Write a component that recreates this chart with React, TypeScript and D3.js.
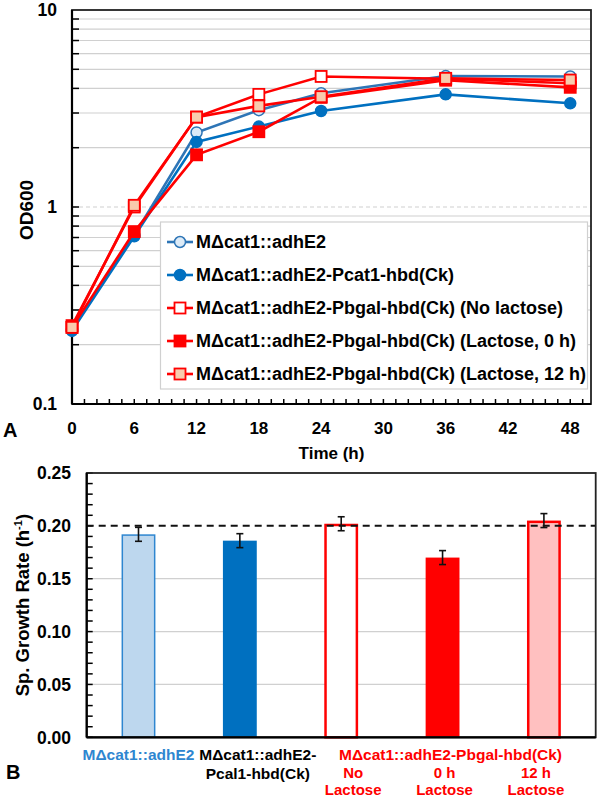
import React from 'react';
import { scaleLinear, scaleLog, scaleBand, line, range } from 'd3';

const FONT = '"Liberation Sans", Arial, sans-serif';
const RED = '#ff0000';
const BLUE = '#0070c0';
const LIGHT_BLUE = '#2e75b6';

// Panel A — OD600 growth curves
const hours = [0, 6, 12, 18, 24, 36, 48];
const xTickHours = [0, 6, 12, 18, 24, 30, 36, 42, 48];
const yTickLabels = [0.1, 1, 10];

const odAdhE2 = [0.24, 0.72, 2.39, 3.1, 3.78, 4.62, 4.6];
const odPcat1 = [0.235, 0.71, 2.14, 2.56, 3.07, 3.73, 3.36];
const odNoLac = [0.25, 1.0, 2.86, 3.73, 4.6, 4.48, 4.25];
const odLac0 = [0.245, 0.75, 1.84, 2.41, 3.6, 4.4, 4.05];
const odLac12 = [0.245, 1.02, 2.86, 3.26, 3.63, 4.5, 4.41];

const errAdhE2 = [0.01, 0.04, 0.12, 0.08, 0.08, 0.1, 0.08];
const errPcat1 = [0.01, 0.03, 0.08, 0.08, 0.08, 0.2, 0.08];
const errNoLac = [0.01, 0.03, 0.08, 0.08, 0.08, 0.1, 0.08];
const errLac0 = [0.01, 0.03, 0.08, 0.08, 0.08, 0.2, 0.08];
const errLac12 = [0.01, 0.03, 0.08, 0.08, 0.08, 0.1, 0.08];

const seriesNames = [
	'MΔcat1::adhE2',
	'MΔcat1::adhE2-Pcat1-hbd(Ck)',
	'MΔcat1::adhE2-Pbgal-hbd(Ck) (No lactose)',
	'MΔcat1::adhE2-Pbgal-hbd(Ck) (Lactose, 0 h)',
	'MΔcat1::adhE2-Pbgal-hbd(Ck) (Lactose, 12 h)',
];

// Panel B — specific growth rate
const barKeys = ['adhE2', 'pcat1', 'noLac', 'lac0', 'lac12'];
const growthRate = [0.192, 0.186, 0.202, 0.17, 0.205];
const growthErr = [0.0066, 0.0066, 0.0066, 0.0066, 0.0066];
const rateTicks = [0, 0.05, 0.1, 0.15, 0.2, 0.25];
const refRate = 0.2;

const series = [
	{ name: seriesNames[0], values: odAdhE2, err: errAdhE2, color: LIGHT_BLUE, shape: 'circle', fill: '#ddebf7' },
	{ name: seriesNames[1], values: odPcat1, err: errPcat1, color: BLUE, shape: 'circle', fill: BLUE },
	{ name: seriesNames[2], values: odNoLac, err: errNoLac, color: RED, shape: 'square', fill: '#ffffff' },
	{ name: seriesNames[3], values: odLac0, err: errLac0, color: RED, shape: 'square', fill: RED },
	{ name: seriesNames[4], values: odLac12, err: errLac12, color: RED, shape: 'square', fill: '#f8cbad' },
];

const barStyles = [
	{ fill: '#bdd7ee', stroke: '#2e86d0', sw: 1.5 },
	{ fill: BLUE, stroke: 'none', sw: 0 },
	{ fill: '#ffffff', stroke: RED, sw: 2.5 },
	{ fill: RED, stroke: 'none', sw: 0 },
	{ fill: '#ffc0c0', stroke: RED, sw: 2.5 },
];

function Marker({ shape, x, y, color, fill }) {
	if (shape === 'circle') {
		return <circle cx={x} cy={y} r={5.5} fill={fill} stroke={color} strokeWidth={1.5} />;
	}
	return <rect x={x - 5.5} y={y - 5.5} width={11} height={11} fill={fill} stroke={color} strokeWidth={1.8} />;
}

export default function App() {
	// panel A scales
	const A = { left: 72, right: 591, top: 10, bottom: 404 };
	const x = scaleLinear().domain([0, 50]).range([A.left, A.right]);
	const y = scaleLog().domain([0.1, 10]).range([A.bottom, A.top]);
	const gridVals = y.ticks().filter((t) => t > 0.1 && t < 10);
	const minorX = range(0, 50, 1.2);
	const lineGen = line()
		.x((d) => x(d[0]))
		.y((d) => y(d[1]));

	// panel B scales
	const B = { left: 86.7, right: 595.7, top: 473, bottom: 737.3 };
	const xb = scaleBand().domain(barKeys).range([B.left, B.right]).paddingInner(0.666).paddingOuter(0.344);
	const yb = scaleLinear().domain([0, 0.25]).range([B.bottom, B.top]);
	const minorY = yb.ticks(25);
	const cx = (k) => xb(k) + xb.bandwidth() / 2;

	const legend = { x: 160.5, y: 222, w: 427, h: 167, row0: 242, step: 33 };

	return (
		<>
			<style>{'body{margin:0}'}</style>
			<svg width={602} height={800} style={{ display: 'block', fontFamily: FONT, fontWeight: 'bold' }}>
				<rect width={602} height={800} fill="#fff" />

				{/* ===== Panel A ===== */}
				{gridVals.map((t) => (
					<line
						key={t}
						x1={A.left}
						x2={A.right}
						y1={y(t)}
						y2={y(t)}
						stroke="#d0d0d0"
						strokeWidth={1.2}
						strokeDasharray={t === 1 ? '4 3' : null}
					/>
				))}
				{gridVals.map((t) => (
					<line key={`yt${t}`} x1={A.left} x2={A.left + 7} y1={y(t)} y2={y(t)} stroke="#000" strokeWidth={1.5} />
				))}
				{minorX.map((t) => (
					<line key={`xt${t}`} x1={x(t)} x2={x(t)} y1={A.bottom} y2={A.bottom - 5} stroke="#000" strokeWidth={1.5} />
				))}
				<rect x={A.left} y={A.top} width={A.right - A.left} height={A.bottom - A.top} fill="none" stroke="#222" strokeWidth={1.8} />
				<line x1={A.left} x2={A.left} y1={A.top} y2={A.bottom} stroke="#000" strokeWidth={2.2} />
				<line x1={A.left} x2={A.right} y1={A.bottom} y2={A.bottom} stroke="#000" strokeWidth={2.2} />

				{yTickLabels.map((t) => (
					<text key={t} x={57} y={y(t)} dy="0.36em" textAnchor="end" fontSize={17.5}>
						{t}
					</text>
				))}
				{xTickHours.map((t) => (
					<text key={t} x={x(t)} y={434} textAnchor="middle" fontSize={17}>
						{t}
					</text>
				))}
				<text x={(A.left + A.right) / 2} y={459} textAnchor="middle" fontSize={17}>
					Time (h)
				</text>
				<text transform={`translate(33,${y(1) + 3}) rotate(-90)`} textAnchor="middle" fontSize={19}>
					OD600
				</text>
				<text x={3} y={437} fontSize={20}>
					A
				</text>

				{series.map((s) => {
					const pts = hours.map((h, i) => [h, s.values[i]]);
					return (
						<g key={s.name}>
							{hours.map((h, i) => (
								<g key={h} stroke={s.color} strokeWidth={1.2}>
									<line x1={x(h)} x2={x(h)} y1={y(s.values[i] - s.err[i])} y2={y(s.values[i] + s.err[i])} />
									<line x1={x(h) - 3} x2={x(h) + 3} y1={y(s.values[i] - s.err[i])} y2={y(s.values[i] - s.err[i])} />
									<line x1={x(h) - 3} x2={x(h) + 3} y1={y(s.values[i] + s.err[i])} y2={y(s.values[i] + s.err[i])} />
								</g>
							))}
							<path d={lineGen(pts)} fill="none" stroke={s.color} strokeWidth={2.6} />
							{pts.map((p) => (
								<Marker key={p[0]} shape={s.shape} x={x(p[0])} y={y(p[1])} color={s.color} fill={s.fill} />
							))}
						</g>
					);
				})}

				{/* legend */}
				<rect x={legend.x} y={legend.y} width={legend.w} height={legend.h} fill="#fff" stroke="#d0d0d0" strokeWidth={1.2} />
				{series.map((s, i) => {
					const ly = legend.row0 + i * legend.step;
					return (
						<g key={s.name}>
							<line x1={167} x2={193} y1={ly} y2={ly} stroke={s.color} strokeWidth={2.6} />
							<Marker shape={s.shape} x={180} y={ly} color={s.color} fill={s.fill} />
							<text x={196} y={ly} dy="0.36em" fontSize={18}>
								{s.name}
							</text>
						</g>
					);
				})}

				{/* ===== Panel B ===== */}
				{rateTicks
					.filter((t) => t > 0 && t < refRate)
					.map((t) => (
						<line key={t} x1={B.left} x2={B.right} y1={yb(t)} y2={yb(t)} stroke="#d0d0d0" strokeWidth={1.2} />
					))}
				{minorY.map((t) => (
					<line key={`my${t}`} x1={B.left} x2={B.left + 6} y1={yb(t)} y2={yb(t)} stroke="#000" strokeWidth={1.5} />
				))}

				{barKeys.map((k, i) => {
					const st = barStyles[i];
					const bx = xb(k);
					const bw = xb.bandwidth();
					const top = yb(growthRate[i]);
					return (
						<rect
							key={k}
							x={bx + st.sw / 2}
							y={top + st.sw / 2}
							width={bw - st.sw}
							height={B.bottom - top - st.sw / 2}
							fill={st.fill}
							stroke={st.stroke}
							strokeWidth={st.sw}
						/>
					);
				})}

				<line x1={B.left} x2={B.right} y1={yb(refRate)} y2={yb(refRate)} stroke="#111" strokeWidth={2} strokeDasharray="7 5" />

				{barKeys.map((k, i) => {
					const lo = yb(growthRate[i] - growthErr[i]);
					const hi = yb(growthRate[i] + growthErr[i]);
					return (
						<g key={k} stroke="#111" strokeWidth={1.6}>
							<line x1={cx(k)} x2={cx(k)} y1={lo} y2={hi} />
							<line x1={cx(k) - 3.5} x2={cx(k) + 3.5} y1={lo} y2={lo} />
							<line x1={cx(k) - 3.5} x2={cx(k) + 3.5} y1={hi} y2={hi} />
						</g>
					);
				})}

				<rect x={B.left} y={B.top} width={B.right - B.left} height={B.bottom - B.top} fill="none" stroke="#222" strokeWidth={1.8} />
				<line x1={B.left} x2={B.left} y1={B.top} y2={B.bottom} stroke="#000" strokeWidth={2.2} />
				<line x1={B.left} x2={B.right} y1={B.bottom} y2={B.bottom} stroke="#000" strokeWidth={2.2} />

				{rateTicks.map((t) => (
					<text key={t} x={71} y={yb(t)} dy="0.36em" textAnchor="end" fontSize={17.5}>
						{t.toFixed(2)}
					</text>
				))}
				<text transform={`translate(29,${(B.top + B.bottom) / 2}) rotate(-90)`} textAnchor="middle" fontSize={18.5}>
					Sp. Growth Rate (h
					<tspan fontSize={11} dy={-7}>
						-1
					</tspan>
					<tspan dy={7}>)</tspan>
				</text>
				<text x={6} y={779} fontSize={20}>
					B
				</text>

				{/* category labels */}
				<g fontSize={15.5} textAnchor="middle">
					<text x={cx(barKeys[0])} y={760} fill="#2e86d0">
						MΔcat1::adhE2
					</text>
					<text x={cx(barKeys[1]) + 18} y={760} fill="#000">
						MΔcat1::adhE2-
					</text>
					<text x={cx(barKeys[1]) + 18} y={779} fill="#000">
						Pcal1-hbd(Ck)
					</text>
					<text x={(cx(barKeys[2]) + cx(barKeys[4])) / 2 + 8} y={760} fill={RED}>
						MΔcat1::adhE2-Pbgal-hbd(Ck)
					</text>
				</g>
				<g fontSize={15} textAnchor="middle" fill={RED}>
					<text x={cx(barKeys[2]) + 12} y={778}>
						No
					</text>
					<text x={cx(barKeys[2]) + 12} y={795}>
						Lactose
					</text>
					<text x={cx(barKeys[3]) + 2} y={778}>
						0 h
					</text>
					<text x={cx(barKeys[3]) + 2} y={795}>
						Lactose
					</text>
					<text x={cx(barKeys[4]) - 8} y={778}>
						12 h
					</text>
					<text x={cx(barKeys[4]) - 8} y={795}>
						Lactose
					</text>
				</g>
			</svg>
		</>
	);
}
